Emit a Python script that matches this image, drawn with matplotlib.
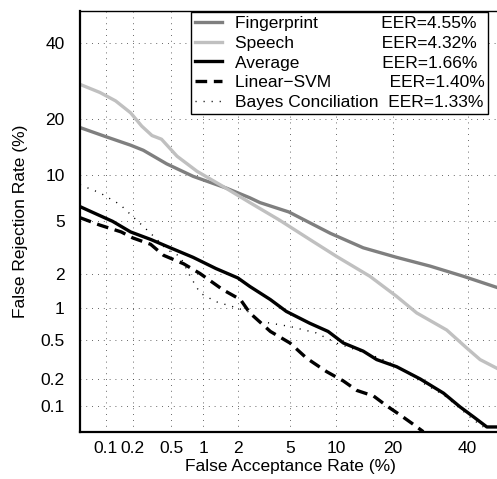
import numpy as np
import matplotlib
matplotlib.use("Agg")
import matplotlib.pyplot as plt
from statistics import NormalDist

plt.rcParams['font.family'] = ['Liberation Sans', 'DejaVu Sans']

# DET curve data (percent)
fingerprint_far = [0.05, 0.1, 0.19, 0.26, 0.45, 0.81, 1.6, 2.5, 3.0, 4.9, 9.2, 14.2, 20.9, 29.2, 38.7, 50]
fingerprint_frr = [18.1, 16.3, 14.7, 13.8, 11.6, 9.8, 8.3, 7.2, 6.7, 5.8, 4.1, 3.2, 2.7, 2.3, 1.9, 1.5]

speech_far = [0.05, 0.086, 0.13, 0.19, 0.25, 0.32, 0.40, 0.57, 0.88, 1.5, 2.5, 4.2, 6.8,
              10.0, 15.4, 20.9, 25.7, 33.8, 39.7, 43.8, 50]
speech_frr = [28.3, 26.2, 24.1, 21.3, 18.4, 16.5, 15.8, 12.8, 10.5, 8.5, 6.7, 5.1, 3.7,
              2.75, 1.9, 1.28, 0.91, 0.63, 0.42, 0.32, 0.25]

average_far = [0.05, 0.079, 0.12, 0.19, 0.31, 0.49, 0.81, 1.3, 2.0, 2.5, 3.6, 4.7, 6.8, 8.9,
               11.0, 14.2, 16.7, 20.9, 26.6, 32.9, 37.7, 41.8, 45.9, 50]
average_frr = [6.3, 5.6, 5.0, 4.2, 3.7, 3.2, 2.7, 2.2, 1.84, 1.56, 1.2, 0.94, 0.73, 0.61,
               0.47, 0.39, 0.32, 0.27, 0.20, 0.14, 0.098, 0.075, 0.057, 0.057]

svm_far = [0.05, 0.086, 0.15, 0.20, 0.31, 0.42, 0.66, 0.94, 1.5, 2.1, 2.5, 3.6, 5.0, 6.5,
           8.7, 11.0, 13.1, 16.1, 18.8, 21.7, 24.5, 27.4]
svm_frr = [5.3, 4.7, 4.2, 3.8, 3.4, 2.8, 2.4, 2.0, 1.46, 1.2, 0.91, 0.61, 0.47, 0.33,
           0.24, 0.19, 0.15, 0.13, 0.10, 0.079, 0.063, 0.05]

bayes_far = [0.05, 0.086, 0.146, 0.20, 0.26, 0.36, 0.45, 0.61, 0.76, 0.94, 1.3, 1.8, 2.4,
             3.0, 5.0, 7.5, 10.0, 13.6, 17.4, 22.5, 27.4, 32.9, 37.7, 41.8, 44.8]
bayes_frr = [8.7, 7.75, 6.5, 5.4, 4.6, 3.7, 3.1, 2.75, 1.9, 1.37, 1.15, 1.04, 0.94,
             0.76, 0.68, 0.59, 0.47, 0.39, 0.33, 0.25, 0.18, 0.134, 0.094, 0.069, 0.057]

names = ['Fingerprint', 'Speech', 'Average', 'Linear\u2212SVM', 'Bayes Conciliation']
eers = ['4.55', '4.32', '1.66', '1.40', '1.33']
pads = [13, 18, 17, 12, 2]

ticks = [0.1, 0.2, 0.5, 1, 2, 5, 10, 20, 40]
tick_labels = ['0.1', '0.2', '0.5', '1', '2', '5', '10', '20', '40']

# probit scale
_nd = NormalDist()
_ppf = np.vectorize(_nd.inv_cdf, otypes=[float])
_cdf = np.vectorize(_nd.cdf, otypes=[float])


def probit(p):
    p = np.clip(np.asarray(p, dtype=float) / 100.0, 1e-9, 1 - 1e-9)
    return _ppf(p)


def inv_probit(z):
    return _cdf(np.asarray(z, dtype=float)) * 100.0


fig = plt.figure(figsize=(4.97, 4.79), dpi=100)
ax = fig.add_axes([80 / 497, 47.3 / 479, 420 / 497, 420.7 / 479])
ax.set_xscale('function', functions=(probit, inv_probit))
ax.set_yscale('function', functions=(probit, inv_probit))

labels = [f"{n}{' ' * k}EER={e}%" for n, e, k in zip(names, eers, pads)]

ax.plot(fingerprint_far, fingerprint_frr, color='#7f7f7f', lw=2.4, label=labels[0])
ax.plot(speech_far, speech_frr, color='#c0c0c0', lw=2.4, label=labels[1])
ax.plot(average_far, average_frr, color='black', lw=2.4, label=labels[2])
ax.plot(svm_far, svm_frr, color='black', lw=2.4, dashes=(3.5, 2.0), label=labels[3])
ax.plot(bayes_far, bayes_frr, color='black', lw=1.0, dashes=(0.8, 5), label=labels[4])

ax.set_xlim(0.05, 50)
ax.set_ylim(0.05, 50)
ax.set_xticks(ticks)
ax.set_xticklabels(tick_labels)
ax.set_yticks(ticks)
ax.set_yticklabels(tick_labels)
ax.minorticks_off()
ax.tick_params(axis='both', length=0, labelsize=12.5)
ax.tick_params(axis='x', pad=7)
ax.tick_params(axis='y', pad=11)
ax.grid(True, color='0.2', lw=0.6, dashes=(1, 6))

for s in ax.spines.values():
    s.set_linewidth(1.0)
ax.spines['left'].set_linewidth(1.6)
ax.spines['bottom'].set_linewidth(1.6)

ax.set_xlabel('False Acceptance Rate (%)', fontsize=12.5, labelpad=2)
ax.set_ylabel('False Rejection Rate (%)', fontsize=12.5, labelpad=9)

leg = ax.legend(loc='upper right', bbox_to_anchor=(0.971, 0.997), borderaxespad=0,
                fontsize=12.5, handlelength=1.6, handletextpad=0.7, labelspacing=0.27,
                borderpad=0.2, fancybox=False, framealpha=1, edgecolor='black')
leg.get_frame().set_linewidth(1.0)

fig.savefig('out.png', dpi=100)
